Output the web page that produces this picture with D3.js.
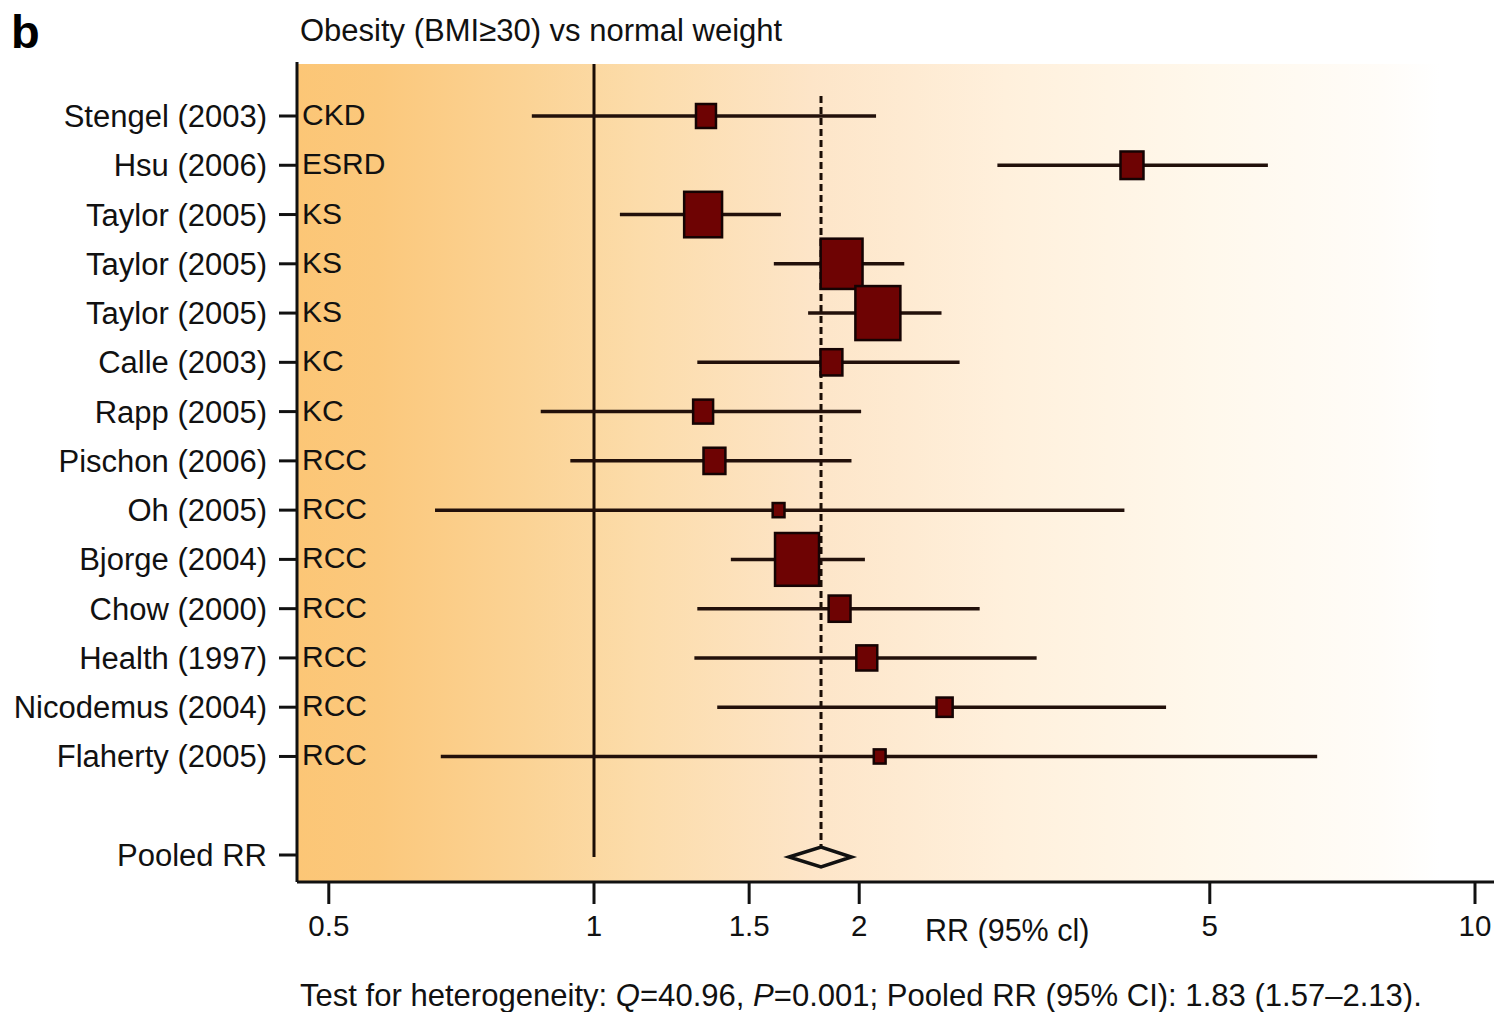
<!DOCTYPE html>
<html>
<head>
<meta charset="utf-8">
<script src="https://cdn.jsdelivr.net/npm/d3@7/dist/d3.min.js"></script>
<style>
  html, body { margin: 0; padding: 0; background: #ffffff; }
  svg { display: block; font-family: "Liberation Sans", Arial, Helvetica, sans-serif; }
</style>
</head>
<body>
<svg id="chart" width="1494" height="1012"></svg>
<script>
// ---------- data ----------
const studies = ["Stengel (2003)", "Hsu (2006)", "Taylor (2005)", "Taylor (2005)", "Taylor (2005)",
  "Calle (2003)", "Rapp (2005)", "Pischon (2006)", "Oh (2005)", "Bjorge (2004)", "Chow (2000)",
  "Health (1997)", "Nicodemus (2004)", "Flaherty (2005)"];
const outcomes = ["CKD", "ESRD", "KS", "KS", "KS", "KC", "KC", "RCC", "RCC", "RCC", "RCC", "RCC", "RCC", "RCC"];
const rr      = [1.34, 4.08, 1.33, 1.91, 2.10, 1.86, 1.33, 1.37, 1.62, 1.70, 1.90, 2.04, 2.50, 2.11];
const ciLow   = [0.85, 2.87, 1.07, 1.60, 1.75, 1.31, 0.87, 0.94, 0.66, 1.43, 1.31, 1.30, 1.38, 0.67];
const ciHigh  = [2.09, 5.82, 1.63, 2.25, 2.48, 2.60, 2.01, 1.96, 4.00, 2.03, 2.74, 3.18, 4.46, 6.62];
const weights = [4.0, 5.3, 14.4, 17.6, 20.3, 4.8, 4.0, 4.8, 1.4, 19.4, 4.8, 4.4, 2.6, 1.4];
const pooled  = { label: "Pooled RR", rr: 1.81, low: 1.665, high: 1.96 };
const xTicks  = [0.5, 1, 1.5, 2, 5, 10];
const xTickLabels = ["0.5", "1", "1.5", "2", "5", "10"];
const title = "Obesity (BMI\u226530) vs normal weight";
const panel = "b";
const xLabel = "RR (95% cl)";

(function () {
// ---------- layout ----------
const svg = d3.select("#chart");
const L = 297, R = 1494, T = 64, B = 882;
const x = d3.scaleLog().domain([1, 10]).range([594, 1475]);
const y = d3.scalePoint().domain(d3.range(16)).range([116, 855]);
const pooledIndex = 15;
const size = d3.scaleSqrt().domain([0, d3.max(weights)]).range([0, 45]);
const aspect = 1.2;

// background gradient
const defs = svg.append("defs");
const grad = defs.append("linearGradient").attr("id", "bg").attr("x1", "0").attr("x2", "1").attr("y1", "0").attr("y2", "0");
[[0, "#fcc676"], [0.07, "#fbc87c"], [0.2, "#fbd395"], [0.3, "#fcdcaa"], [0.45, "#fde5c8"],
 [0.62, "#fff0dc"], [0.8, "#fff8ec"], [0.95, "#fffcf8"], [1, "#ffffff"]]
  .forEach(([o, c]) => grad.append("stop").attr("offset", o).attr("stop-color", c));
svg.append("rect").attr("x", L).attr("y", T).attr("width", 1440 - L).attr("height", B - T)
  .attr("fill", "url(#bg)");

// panel letter and title
svg.append("text").attr("x", 11).attr("y", 48).attr("font-size", 47).attr("font-weight", "bold").text(panel);
svg.append("text").attr("x", 300).attr("y", 41).attr("font-size", 31).attr("fill", "#111").text(title);

// reference line at 1
svg.append("line").attr("x1", x(1)).attr("x2", x(1)).attr("y1", T).attr("y2", y(pooledIndex) + 2)
  .attr("stroke", "#1a0d05").attr("stroke-width", 3);
// dashed pooled line
svg.append("line").attr("x1", x(pooled.rr)).attr("x2", x(pooled.rr)).attr("y1", 96).attr("y2", y(pooledIndex) - 9)
  .attr("stroke", "#1a0d05").attr("stroke-width", 3).attr("stroke-dasharray", "7,4");

// CI lines
const rows = studies.map((s, i) => ({ s, o: outcomes[i], rr: rr[i], lo: ciLow[i], hi: ciHigh[i], w: weights[i], i }));
svg.append("g").selectAll("line").data(rows).join("line")
  .attr("x1", d => x(d.lo)).attr("x2", d => x(d.hi))
  .attr("y1", d => y(d.i)).attr("y2", d => y(d.i))
  .attr("stroke", "#22100a").attr("stroke-width", 3.5);

// squares
svg.append("g").selectAll("rect").data(rows).join("rect")
  .attr("x", d => x(d.rr) - size(d.w) / 2)
  .attr("y", d => y(d.i) - size(d.w) * aspect / 2)
  .attr("width", d => size(d.w))
  .attr("height", d => size(d.w) * aspect)
  .attr("fill", "#6e0303").attr("stroke", "#150303").attr("stroke-width", 2.5);

// pooled diamond
const py = y(pooledIndex) + 2;
svg.append("path")
  .attr("d", `M${x(pooled.low)},${py} L${x(pooled.rr)},${py - 10} L${x(pooled.high)},${py} L${x(pooled.rr)},${py + 10} Z`)
  .attr("fill", "none").attr("stroke", "#111").attr("stroke-width", 3.5);

// left axis
svg.append("line").attr("x1", L).attr("x2", L).attr("y1", T - 2).attr("y2", B)
  .attr("stroke", "#111").attr("stroke-width", 3);
const allLabels = rows.map(d => ({ label: d.s, i: d.i })).concat([{ label: pooled.label, i: pooledIndex }]);
svg.append("g").selectAll("line").data(allLabels).join("line")
  .attr("x1", L - 18).attr("x2", L).attr("y1", d => y(d.i)).attr("y2", d => y(d.i))
  .attr("stroke", "#111").attr("stroke-width", 3);
svg.append("g").selectAll("text").data(allLabels).join("text")
  .attr("x", 267).attr("y", d => y(d.i) + 11).attr("text-anchor", "end")
  .attr("font-size", 31).attr("fill", "#111").text(d => d.label);
svg.append("g").selectAll("text").data(rows).join("text")
  .attr("x", 302).attr("y", d => y(d.i) + 9).attr("font-size", 30).attr("fill", "#111").text(d => d.o);

// bottom axis
svg.append("line").attr("x1", L).attr("x2", R).attr("y1", B).attr("y2", B)
  .attr("stroke", "#111").attr("stroke-width", 3);
const tg = svg.append("g").selectAll("g").data(xTicks).join("g");
tg.append("line").attr("x1", d => x(d)).attr("x2", d => x(d)).attr("y1", B).attr("y2", B + 22)
  .attr("stroke", "#111").attr("stroke-width", 3);
tg.append("text").attr("x", d => x(d)).attr("y", 936).attr("text-anchor", "middle")
  .attr("font-size", 29.5).attr("fill", "#111").text((d, i) => xTickLabels[i]);
svg.append("text").attr("x", 925).attr("y", 941).attr("font-size", 30.5).attr("fill", "#111").text(xLabel);

// footer
const foot = svg.append("text").attr("x", 300).attr("y", 1006).attr("font-size", 27).attr("fill", "#111");
foot.append("tspan").text("Test for heterogeneity: ");
foot.append("tspan").attr("font-style", "italic").text("Q");
foot.append("tspan").text("=40.96, ");
foot.append("tspan").attr("font-style", "italic").text("P");
foot.append("tspan").text("=0.001; Pooled RR (95% CI): 1.83 (1.57\u20132.13).");
const fw = foot.node().getComputedTextLength();
foot.attr("font-size", 27 * 1122 / fw);
})();
</script>
</body>
</html>
